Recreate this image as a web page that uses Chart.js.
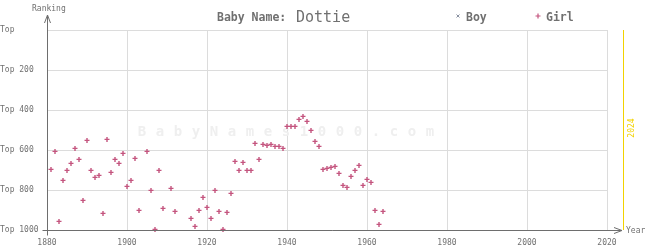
<!DOCTYPE html>
<html>
<head>
<meta charset="utf-8">
<script src="https://cdn.jsdelivr.net/npm/chart.js@4/dist/chart.umd.min.js"></script>
<style>
html,body{margin:0;padding:0;background:#fff;}
#wrap{width:645px;height:250px;}
</style>
</head>
<body>
<div id="wrap"><canvas id="c" width="645" height="250"></canvas></div>
<script>
// ---- data ----
const girlYears = [1881,1882,1883,1884,1885,1886,1887,1888,1889,1890,
  1891,1892,1893,1894,1895,1896,1897,1898,1899,1900,
  1901,1902,1903,1905,1906,1907,1908,1909,1911,1912,
  1916,1917,1918,1919,1920,1921,1922,1923,1924,1925,
  1926,1927,1928,1929,1930,1931,1932,1933,1934,1935,
  1936,1937,1938,1939,1940,1941,1942,1943,1944,1945,
  1946,1947,1948,1949,1950,1951,1952,1953,1954,1955,
  1956,1957,1958,1959,1960,1961,1962,1963,1964];
const girlRanks = [697,607,957,752,702,667,592,647,852,552,
  702,737,727,917,547,712,647,667,617,782,
  752,642,902,607,802,997,702,892,792,907,
  942,982,902,837,887,942,802,907,997,912,
  817,657,702,662,702,702,567,647,572,577,
  572,582,582,592,482,482,482,447,432,457,
  502,557,582,697,692,687,682,717,777,787,
  732,702,677,777,747,762,902,972,907];
const boyYears = [];
const boyRanks = [];
const xTickValues = [1880,1900,1920,1940,1960,1980,2000,2020];
const yTickValues = [0,200,400,600,800,1000];
const yTickLabels = ["Top","Top 200","Top 400","Top 600","Top 800","Top 1000"];
const currentYear = 2024;
const babyName = "Dottie";
const watermark = "BabyNames1000.com";

const MONO = '"DejaVu Sans Mono", "Liberation Mono", monospace';
const TXT = '#707070';
const GIRL = '#c4547e';
const BOY = '#8890a0';

const deco = {
  id: 'deco',
  beforeDatasetsDraw(chart) {
    const c = chart.ctx;
    const xs = chart.scales.x, ys = chart.scales.y;
    // watermark
    c.save();
    c.font = 'bold 14px ' + MONO;
    c.fillStyle = '#efefef';
    c.textAlign = 'center';
    c.textBaseline = 'middle';
    const midY = (ys.top + ys.bottom) / 2 + 2.5;
    for (let i = 0; i < watermark.length; i++) {
      c.fillText(watermark[i], 142 + i * 18, midY);
    }
    c.restore();
    // current-year line
    const px = Math.round(xs.getPixelForValue(currentYear)) + 0.5;
    c.save();
    c.strokeStyle = '#f2d200';
    c.lineWidth = 1;
    c.beginPath();
    c.moveTo(px, ys.top);
    c.lineTo(px, ys.bottom);
    c.stroke();
    c.translate(px + 8, (ys.top + ys.bottom) / 2 - 2);
    c.rotate(-Math.PI / 2);
    c.font = '8px ' + MONO;
    c.fillStyle = '#f2d200';
    c.textAlign = 'center';
    c.textBaseline = 'middle';
    c.fillText(String(currentYear), 0, 0);
    c.restore();
  },
  afterDraw(chart) {
    const c = chart.ctx;
    const xs = chart.scales.x, ys = chart.scales.y;
    const x0 = Math.round(xs.getPixelForValue(xTickValues[0])) + 0.5;
    const y0 = Math.round(ys.getPixelForValue(1000)) + 0.5;
    const xEnd = Math.round(xs.getPixelForValue(currentYear)) - 1;
    c.save();
    c.strokeStyle = '#6e6e6e';
    c.lineWidth = 1;
    // axes
    c.beginPath();
    c.moveTo(x0, 15); c.lineTo(x0, y0 + 5);
    c.moveTo(x0 - 5, y0); c.lineTo(xEnd, y0);
    // y arrow
    c.moveTo(x0 - 3, 23); c.lineTo(x0, 15); c.lineTo(x0 + 3, 23);
    // x arrow
    c.moveTo(xEnd - 8, y0 - 3); c.lineTo(xEnd, y0); c.lineTo(xEnd - 8, y0 + 3);
    c.stroke();
    // tick labels
    c.fillStyle = TXT;
    c.font = '8px ' + MONO;
    c.textBaseline = 'middle';
    c.textAlign = 'center';
    xTickValues.forEach(v => c.fillText(String(v), xs.getPixelForValue(v), 243));
    c.textAlign = 'left';
    yTickValues.forEach((v, i) => c.fillText(yTickLabels[i], 0, ys.getPixelForValue(v)));
    c.fillText('Ranking', 32, 9);
    c.fillText('Year', 626, y0);
    // title
    c.font = 'bold 11.5px ' + MONO;
    c.textBaseline = 'alphabetic';
    c.fillText('Baby Name:', 217, 21);
    c.font = '15px ' + MONO;
    c.fillText(babyName, 296, 22);
    // legend
    c.font = 'bold 11.5px ' + MONO;
    c.fillText('Boy', 466, 21);
    c.fillText('Girl', 546, 21);
    c.lineWidth = 1;
    c.strokeStyle = BOY;
    c.beginPath();
    c.moveTo(456.5, 14.5); c.lineTo(459.5, 17.5);
    c.moveTo(459.5, 14.5); c.lineTo(456.5, 17.5);
    c.stroke();
    c.strokeStyle = GIRL;
    c.lineWidth = 1.2;
    c.beginPath();
    c.moveTo(538, 13.5); c.lineTo(538, 18.5);
    c.moveTo(535.5, 16); c.lineTo(540.5, 16);
    c.stroke();
    c.restore();
  }
};

new Chart(document.getElementById('c'), {
  type: 'scatter',
  data: {
    datasets: [
      {
        label: 'Boy',
        data: boyYears.map((yr, i) => ({x: yr, y: boyRanks[i]})),
        pointStyle: 'crossRot',
        borderColor: BOY,
        backgroundColor: BOY,
        pointRadius: 2.5,
        borderWidth: 1,
        clip: false
      },
      {
        label: 'Girl',
        data: girlYears.map((yr, i) => ({x: yr, y: girlRanks[i]})),
        pointStyle: 'cross',
        borderColor: GIRL,
        backgroundColor: GIRL,
        pointRadius: 2.5,
        borderWidth: 1.4,
        clip: false
      }
    ]
  },
  options: {
    responsive: false,
    animation: false,
    devicePixelRatio: 1,
    layout: {padding: {left: 47, right: 38, top: 30, bottom: 20}},
    plugins: {legend: {display: false}, tooltip: {enabled: false}, title: {display: false}},
    scales: {
      x: {
        type: 'linear', min: 1880, max: 2020,
        ticks: {display: false, stepSize: 20},
        grid: {color: '#dcdcdc', drawTicks: false, lineWidth: 1},
        border: {display: false}
      },
      y: {
        type: 'linear', reverse: true, min: 0, max: 1000,
        ticks: {display: false, stepSize: 200},
        grid: {color: '#dcdcdc', drawTicks: false, lineWidth: 1},
        border: {display: false}
      }
    }
  },
  plugins: [deco]
});
</script>
</body>
</html>
